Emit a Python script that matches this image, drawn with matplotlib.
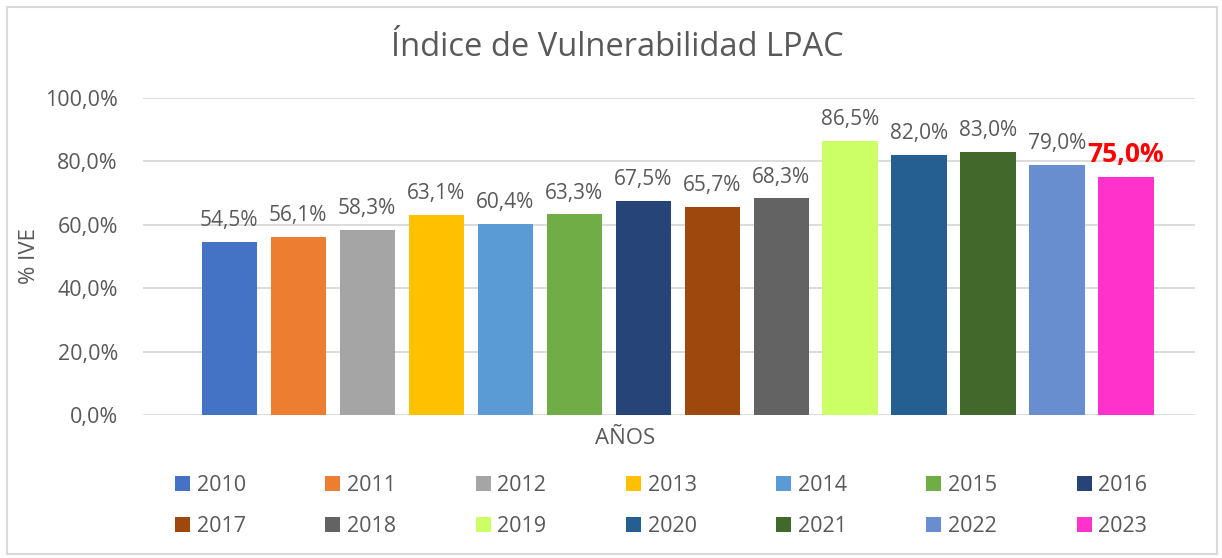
import matplotlib.pyplot as plt
from matplotlib.patches import Patch, Rectangle

years = ['2010', '2011', '2012', '2013', '2014', '2015', '2016',
         '2017', '2018', '2019', '2020', '2021', '2022', '2023']
values = [54.5, 56.1, 58.3, 63.1, 60.4, 63.3, 67.5,
          65.7, 68.3, 86.5, 82.0, 83.0, 79.0, 75.0]
colors = ['#4472C4', '#ED7D31', '#A5A5A5', '#FFC000', '#5B9BD5', '#70AD47', '#264478',
          '#9E480E', '#636363', '#CCFF66', '#255E91', '#43682B', '#698ED0', '#FF33CC']
yticks = [0, 20, 40, 60, 80, 100]

TXT = '#595959'
plt.rcParams['font.family'] = ['Open Sans', 'DejaVu Sans']

fig = plt.figure(figsize=(12.22, 5.58), dpi=100)
fig.patches.append(Rectangle((0.006, 0.008), 0.99, 0.98, transform=fig.transFigure,
                             fill=False, edgecolor='#D9D9D9', linewidth=1.5))
ax = fig.add_axes([143 / 1222, 1 - 415 / 558, (1195 - 143) / 1222, (415 - 98) / 558])

x = list(range(len(years)))
ax.bar(x, values, width=0.8, color=colors, zorder=3)
for i, v in enumerate(values):
    label = f'{v:.1f}%'.replace('.', ',')
    if i == len(values) - 1:
        ax.text(i, v + 2.8, label, ha='center', va='bottom', color='#FF0000',
                fontsize=19, fontweight='bold')
    else:
        ax.text(i, v + 3.4, label, ha='center', va='bottom', color=TXT, fontsize=15)

ax.set_ylim(0, 100)
ax.set_xlim(-1.25, 14.0)
ax.set_yticks(yticks)
ax.set_yticklabels([f'{t:.1f}%'.replace('.', ',') for t in yticks], color=TXT, fontsize=15.5)
ax.set_xticks([])
ax.tick_params(axis='y', length=0, pad=18)
ax.grid(axis='y', color='#D9D9D9', linewidth=1.3, zorder=0)
for s in ax.spines.values():
    s.set_visible(False)

ax.set_ylabel('% IVE', color=TXT, fontsize=16, labelpad=4)
fig.text(0.505, 1 - 48 / 558, 'Índice de Vulnerabilidad LPAC', color=TXT, fontsize=23.5,
         ha='center', va='center')
fig.text(625 / 1222, 1 - 438 / 558, 'AÑOS', color=TXT, fontsize=16,
         ha='center', va='center')

# legend fills column-wise, so interleave the two rows
order = []
for c in range(7):
    order += [c, c + 7]
handles = [Patch(facecolor=colors[i]) for i in order]
labels = [years[i] for i in order]
fig.legend(handles, labels, loc='center', ncol=7, frameon=False,
           bbox_to_anchor=(0.541, 1 - 506 / 558), fontsize=15.5, labelcolor=TXT,
           handlelength=0.7, handleheight=0.7, handletextpad=0.3,
           columnspacing=3.7, labelspacing=0.95)

fig.savefig('out.png', dpi=100)
